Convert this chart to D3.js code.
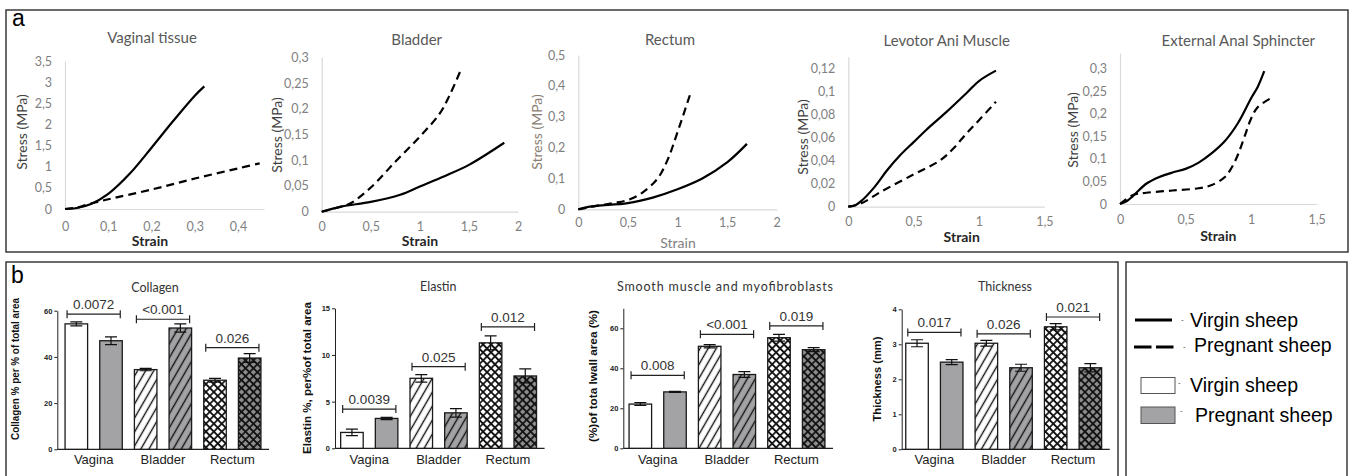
<!DOCTYPE html>
<html>
<head>
<meta charset="utf-8">
<script src="https://cdn.jsdelivr.net/npm/d3@7"></script>
<style>
body { margin: 0; background: #fff; }
svg { display: block; }
</style>
</head>
<body>
<svg id="fig" width="1349" height="476"></svg>
<script>
// ---- panel a : stress / strain curves ----
var curveTitles = ["Vaginal tissue", "Bladder", "Rectum", "Levotor Ani Muscle", "External Anal Sphincter"];

var vaginalVirgin = [[0,0],[0.03,0.03],[0.06,0.12],[0.1,0.36],[0.15,0.84],[0.2,1.45],[0.25,2.08],[0.3,2.68],[0.322,2.9]];
var vaginalPregnant = [[0,0],[0.03,0.04],[0.05,0.1],[0.08,0.18],[0.1,0.23],[0.2,0.46],[0.3,0.72],[0.4,0.96],[0.45,1.08]];
var bladderVirgin = [[0,0],[0.2,0.01],[0.5,0.019],[0.8,0.033],[1,0.049],[1.25,0.069],[1.5,0.091],[1.86,0.134]];
var bladderPregnant = [[0,0],[0.2,0.01],[0.3,0.017],[0.5,0.047],[0.75,0.097],[1,0.146],[1.2,0.19],[1.3,0.225],[1.41,0.272]];
var rectumVirgin = [[0,0],[0.1,0.008],[0.2,0.012],[0.5,0.02],[0.75,0.038],[1,0.065],[1.25,0.1],[1.5,0.152],[1.7,0.212]];
var rectumPregnant = [[0,0],[0.2,0.012],[0.35,0.02],[0.5,0.03],[0.65,0.055],[0.8,0.1],[0.9,0.16],[1,0.25],[1.13,0.375]];
var levatorVirgin = [[0,0],[0.05,0.001],[0.1,0.005],[0.2,0.017],[0.3,0.032],[0.4,0.045],[0.5,0.056],[0.6,0.067],[0.75,0.082],[0.9,0.098],[1,0.109],[1.13,0.118]];
var levatorPregnant = [[0,0],[0.1,0.003],[0.25,0.013],[0.5,0.028],[0.7,0.04],[0.8,0.05],[0.9,0.063],[1,0.075],[1.13,0.091]];
var sphincterVirgin = [[0,0],[0.05,0.006],[0.1,0.018],[0.2,0.045],[0.3,0.06],[0.4,0.07],[0.5,0.078],[0.6,0.092],[0.7,0.113],[0.8,0.14],[0.9,0.18],[1,0.235],[1.05,0.26],[1.1,0.295]];
var sphincterPregnant = [[0,0],[0.1,0.02],[0.2,0.025],[0.4,0.03],[0.6,0.035],[0.7,0.042],[0.8,0.06],[0.85,0.08],[0.9,0.11],[0.95,0.15],[1,0.19],[1.05,0.215],[1.15,0.235]];

var virginCurves = [vaginalVirgin, bladderVirgin, rectumVirgin, levatorVirgin, sphincterVirgin];
var pregnantCurves = [vaginalPregnant, bladderPregnant, rectumPregnant, levatorPregnant, sphincterPregnant];

var strainMax = [0.46, 2, 2, 1.5, 1.5];
var stressMax = [3.5, 0.3, 0.5, 0.13, 0.335];
var strainTicks = [[0,0.1,0.2,0.3,0.4],[0,0.5,1,1.5,2],[0,0.5,1,1.5,2],[0,0.5,1,1.5],[0,0.5,1,1.5]];
var stressTicks = [[0,0.5,1,1.5,2,2.5,3,3.5],[0,0.05,0.1,0.15,0.2,0.25,0.3],[0,0.1,0.2,0.3,0.4,0.5],[0,0.02,0.04,0.06,0.08,0.1,0.12],[0,0.05,0.1,0.15,0.2,0.25,0.3]];

// ---- panel b : histology bars ----
var tissues = ["Vagina", "Bladder", "Rectum"];
var groups = ["virgin", "pregnant"];
var barTitles = ["Collagen", "Elastin", "Smooth muscle and myofibroblasts", "Thickness"];
var barYTitles = ["Collagen % per % of total area", "Elastin %, per%of total area", "(%)of tota lwall area (%)", "Thickness (mm)"];
var barYMax = [60, 15, 70, 4];
var barYTicks = [[0,20,40,60],[0,5,10,15],[0,20,40,60],[0,1,2,3,4]];
var virginMeans = [[54.3,34.5,29.9],[1.7,7.5,11.3],[22.1,51.0,55.3],[3.03,3.03,3.5]];
var virginErr = [[0.9,0.5,0.8],[0.35,0.4,0.75],[0.7,0.8,1.7],[0.1,0.08,0.09]];
var pregnantMeans = [[47.0,52.5,39.5],[3.2,3.8,7.75],[28.2,36.9,49.3],[2.49,2.33,2.33]];
var pregnantErr = [[1.7,1.8,1.9],[0.12,0.45,0.75],[0.3,1.4,1.0],[0.07,0.1,0.12]];
var pLabels = [["0.0072","<0.001","0.026"],["0.0039","0.025","0.012"],["0.008","<0.001","0.019"],["0.017","0.026","0.021"]];
var pHeights = [[58.5,56.3,44],[4.2,8.75,13.0],[36.5,57.0,61.2],[3.34,3.3,3.78]];

// layout
var topLayout = [
  { x: [65, 264], y: [209, 61], xPad: 13, title: [152, 43], yTitle: [22, 132], strain: [150, 246], tc: '#404040' },
  { x: [321.7, 518], y: [211.7, 57.3], xPad: 10, title: [416.7, 45], yTitle: [277, 135], strain: [420, 246], tc: '#404040' },
  { x: [578.3, 776.7], y: [209.3, 55], xPad: 9, title: [670, 45], yTitle: [537, 132], strain: [678, 248], tc: '#8a7d72' },
  { x: [848.3, 1044.3], y: [206.7, 56.8], xPad: 10, title: [946.7, 46], yTitle: [803.5, 137], strain: [961.7, 242], tc: '#404040' },
  { x: [1120, 1316.7], y: [204, 53.2], xPad: 11, title: [1238.3, 46], yTitle: [1073.5, 130], strain: [1218.3, 240.5], tc: '#404040' }
];
var barLayout = [
  { axisX: 57.3, start: 59, y: [449.3, 310.7], title: [155, 292], tl: null, yTitle: [15, 369, 142] },
  { axisX: 335, start: 334.6, y: [448.3, 308.3], title: [438.3, 291], tl: null, yTitle: [306.7, 378, 152] },
  { axisX: 623.3, start: 623, y: [448.3, 308.3], title: [725, 291], tl: 216, yTitle: [593.3, 376, 132] },
  { axisX: 901.7, start: 899.7, y: [449.3, 309.3], title: [1005, 291], tl: null, yTitle: [876.7, 379, 85] }
];

var svg = d3.select('#fig');
var defs = svg.append('defs');
var gray = '#a3a3a6';
var darkGray = '#8c8c8c';

function hatch(id, bg) {
  var p = defs.append('pattern').attr('id', id)
    .attr('patternUnits', 'userSpaceOnUse')
    .attr('width', 7).attr('height', 7)
    .attr('patternTransform', 'rotate(30)');
  p.append('rect').attr('width', 7).attr('height', 7).attr('fill', bg);
  p.append('line').attr('x1', 3.5).attr('x2', 3.5).attr('y1', -1).attr('y2', 8)
    .attr('stroke', '#111').attr('stroke-width', 1.4);
}
function cross(id, bg) {
  var p = defs.append('pattern').attr('id', id)
    .attr('patternUnits', 'userSpaceOnUse')
    .attr('width', 5.6).attr('height', 5.6)
    .attr('patternTransform', 'rotate(45)');
  p.append('rect').attr('width', 5.6).attr('height', 5.6).attr('fill', bg);
  p.append('path').attr('d', 'M-1,2.8H6.6M2.8,-1V6.6')
    .attr('stroke', '#111').attr('stroke-width', 1.7);
}
hatch('hatchW', '#fff');
hatch('hatchG', gray);
cross('crossW', '#fff');
cross('crossG', darkGray);

var fills = {
  Vagina: { virgin: '#fff', pregnant: gray },
  Bladder: { virgin: 'url(#hatchW)', pregnant: 'url(#hatchG)' },
  Rectum: { virgin: 'url(#crossW)', pregnant: 'url(#crossG)' }
};

// frames
svg.append('rect').attr('x', 6).attr('y', 10).attr('width', 1342).attr('height', 242)
  .attr('fill', 'none').attr('stroke', '#3a3a3a').attr('stroke-width', 1.5);
svg.append('rect').attr('x', 6).attr('y', 262).attr('width', 1112).attr('height', 230)
  .attr('fill', 'none').attr('stroke', '#3a3a3a').attr('stroke-width', 1.5);
svg.append('rect').attr('x', 1126).attr('y', 262).attr('width', 221).attr('height', 230)
  .attr('fill', 'none').attr('stroke', '#3a3a3a').attr('stroke-width', 1.5);

svg.append('text').attr('x', 12).attr('y', 26).text('a')
  .style('font', '23px "Liberation Sans", Arial, sans-serif');
svg.append('text').attr('x', 11).attr('y', 283).text('b')
  .style('font', '23px "Liberation Sans", Arial, sans-serif');

var comma = function(d) { return String(+d.toFixed(3)).replace('.', ','); };
var excelFont = 'Lato, "Open Sans", sans-serif';

// ---- draw panel a ----
curveTitles.forEach(function(title, i) {
  var L = topLayout[i];
  var x = d3.scaleLinear().domain([0, strainMax[i]]).range(L.x);
  var y = d3.scaleLinear().domain([0, stressMax[i]]).range(L.y);
  var g = svg.append('g');

  var ya = g.append('g').attr('transform', 'translate(' + L.x[0] + ',0)')
    .call(d3.axisLeft(y).tickValues(stressTicks[i]).tickSize(0).tickPadding(13).tickFormat(comma));
  var xa = g.append('g').attr('transform', 'translate(0,' + L.y[0] + ')')
    .call(d3.axisBottom(x).tickValues(strainTicks[i]).tickSize(0).tickPadding(L.xPad).tickFormat(comma));
  [ya, xa].forEach(function(a) {
    a.select('.domain').attr('stroke', '#d9d9d9').attr('stroke-width', 1.2);
    a.selectAll('text').attr('fill', '#7f7f7f').style('font-family', excelFont).style('font-size', '12.5px');
  });

  var line = d3.line().x(function(d) { return x(d[0]); }).y(function(d) { return y(d[1]); })
    .curve(d3.curveCatmullRom.alpha(0.5));
  g.append('path').datum(pregnantCurves[i]).attr('d', line)
    .attr('fill', 'none').attr('stroke', '#000').attr('stroke-width', 2.2).attr('stroke-dasharray', '8,5');
  g.append('path').datum(virginCurves[i]).attr('d', line)
    .attr('fill', 'none').attr('stroke', '#000').attr('stroke-width', 2.2);

  g.append('text').attr('x', L.title[0]).attr('y', L.title[1]).attr('text-anchor', 'middle')
    .attr('fill', '#595959').style('font-family', excelFont).style('font-size', '15px').text(title);
  g.append('text').attr('transform', 'translate(' + L.yTitle[0] + ',' + L.yTitle[1] + ') rotate(-90)')
    .attr('dy', '0.35em').attr('text-anchor', 'middle').attr('fill', L.tc)
    .style('font-family', excelFont).style('font-size', '14px').text('Stress (MPa)');
  g.append('text').attr('x', L.strain[0]).attr('y', L.strain[1]).attr('text-anchor', 'middle')
    .attr('fill', L.tc === '#404040' ? '#262626' : '#7f7f7f')
    .style('font-family', excelFont).style('font-size', '14px').style('font-weight', i === 2 ? 400 : 700).text('Strain');
});

// ---- draw panel b ----
var arial = '"Liberation Sans", Arial, sans-serif';
barTitles.forEach(function(title, i) {
  var L = barLayout[i];
  var y = d3.scaleLinear().domain([0, barYMax[i]]).range(L.y);
  var xg = d3.scaleBand().domain(tissues).range([L.start, L.start + 208]);
  var xs = d3.scaleBand().domain(groups).range([0, xg.bandwidth()]).paddingInner(0.35).paddingOuter(0.175);
  var g = svg.append('g');

  var ya = g.append('g').attr('transform', 'translate(' + L.axisX + ',0)')
    .call(d3.axisLeft(y).tickValues(barYTicks[i]).tickSize(3).tickSizeOuter(0).tickPadding(2).tickFormat(d3.format('d')));
  ya.selectAll('text').style('font-family', arial).style('font-size', '7.5px').style('font-weight', 700).attr('fill', '#222');
  ya.selectAll('line, .domain').attr('stroke', '#222');
  g.append('line').attr('x1', L.axisX).attr('x2', L.start + 210)
    .attr('y1', y(0)).attr('y2', y(0)).attr('stroke', '#222').attr('stroke-width', 1.2);

  var rows = [];
  tissues.forEach(function(t, k) {
    rows.push({ t: t, s: 'virgin', v: virginMeans[i][k], e: virginErr[i][k] });
    rows.push({ t: t, s: 'pregnant', v: pregnantMeans[i][k], e: pregnantErr[i][k] });
  });
  g.selectAll('rect.bar').data(rows).join('rect').attr('class', 'bar')
    .attr('x', function(d) { return xg(d.t) + xs(d.s); })
    .attr('y', function(d) { return y(d.v); })
    .attr('width', xs.bandwidth())
    .attr('height', function(d) { return y(0) - y(d.v); })
    .attr('fill', function(d) { return fills[d.t][d.s]; })
    .attr('stroke', '#1a1a1a').attr('stroke-width', 1.3);

  g.selectAll('path.err').data(rows).join('path').attr('class', 'err')
    .attr('d', function(d) {
      var cx = xg(d.t) + xs(d.s) + xs.bandwidth() / 2;
      var lo = y(d.v - d.e), hi = y(d.v + d.e);
      return 'M' + cx + ',' + lo + 'V' + hi + 'M' + (cx - 6) + ',' + hi + 'H' + (cx + 6) +
        'M' + (cx - 6) + ',' + lo + 'H' + (cx + 6);
    })
    .attr('fill', 'none').attr('stroke', '#111').attr('stroke-width', 1.2);

  tissues.forEach(function(t, k) {
    var x1 = xg(t) + xs('virgin') + 2;
    var x2 = xg(t) + xs('pregnant') + xs.bandwidth() - 2;
    var yb = y(pHeights[i][k]);
    g.append('path')
      .attr('d', 'M' + x1 + ',' + (yb - 4) + 'V' + (yb + 4) + 'M' + x1 + ',' + yb + 'H' + x2 +
        'M' + x2 + ',' + (yb - 4) + 'V' + (yb + 4))
      .attr('fill', 'none').attr('stroke', '#222').attr('stroke-width', 1.2);
    g.append('text').attr('x', (x1 + x2) / 2).attr('y', yb - 5).attr('text-anchor', 'middle')
      .attr('fill', '#333').style('font-family', arial).style('font-size', '13.5px').text(pLabels[i][k]);
    g.append('text').attr('x', xg(t) + xg.bandwidth() / 2).attr('y', 464).attr('text-anchor', 'middle')
      .attr('fill', '#222').style('font-family', arial).style('font-size', '13px').text(t);
  });

  var tt = g.append('text').attr('x', L.title[0]).attr('y', L.title[1]).attr('text-anchor', 'middle')
    .attr('fill', '#333').style('font-family', excelFont).style('font-size', '12.5px').text(title);
  if (L.tl) tt.attr('textLength', L.tl).attr('lengthAdjust', 'spacing');
  g.append('text').attr('transform', 'translate(' + L.yTitle[0] + ',' + L.yTitle[1] + ') rotate(-90)')
    .attr('dy', '0.35em').attr('text-anchor', 'middle').attr('fill', '#111')
    .attr('textLength', L.yTitle[2]).attr('lengthAdjust', 'spacingAndGlyphs')
    .style('font-family', arial).style('font-size', '11.5px').style('font-weight', 700).text(barYTitles[i]);
});

// ---- legend ----
var lg = svg.append('g');
var legFont = '19.5px "Liberation Sans", Arial, sans-serif';
lg.append('line').attr('x1', 1135).attr('x2', 1172).attr('y1', 320).attr('y2', 320)
  .attr('stroke', '#000').attr('stroke-width', 3);
lg.append('line').attr('x1', 1134).attr('x2', 1173.5).attr('y1', 347).attr('y2', 347)
  .attr('stroke', '#000').attr('stroke-width', 3).attr('stroke-dasharray', '17.5,4.5');
lg.append('rect').attr('x', 1141).attr('y', 377.5).attr('width', 34).attr('height', 16)
  .attr('fill', '#fff').attr('stroke', '#555').attr('stroke-width', 1);
lg.append('rect').attr('x', 1141).attr('y', 407).attr('width', 34).attr('height', 16.5)
  .attr('fill', gray).attr('stroke', '#555').attr('stroke-width', 1);
var legRows = [
  { dash: [1181, 322], x: 1190, y: 326.5, t: 'Virgin sheep' },
  { dash: [1183, 349], x: 1194, y: 352, t: 'Pregnant sheep' },
  { dash: [1178, 385], x: 1190, y: 392, t: 'Virgin sheep' },
  { dash: [1180, 413], x: 1195, y: 422, t: 'Pregnant sheep' }
];
legRows.forEach(function(r) {
  lg.append('text').attr('x', r.dash[0]).attr('y', r.dash[1]).text('-')
    .style('font', '8px "Liberation Sans", Arial, sans-serif').attr('fill', '#444');
  lg.append('text').attr('x', r.x).attr('y', r.y).text(r.t).style('font', legFont).attr('fill', '#000');
});
</script>
</body>
</html>
